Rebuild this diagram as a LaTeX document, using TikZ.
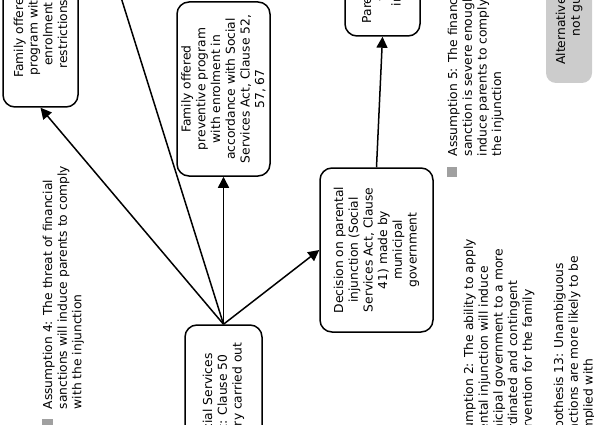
\documentclass[tikz,border=0pt]{standalone}
\usepackage{fontspec}
\setmainfont{DejaVu Sans}
\usepackage{tikz}
\usetikzlibrary{shapes,arrows.meta}
\usetikzlibrary{positioning}
\definecolor{boxgray}{RGB}{204,204,204}
\definecolor{markgray}{RGB}{160,160,160}
\tikzstyle{block} = [draw, rectangle, rounded corners=12pt, rotate=90,
    align=center, inner sep=0pt, font=\fontsize{12.3}{14.7}\selectfont]
\tikzstyle{altblock} = [fill=boxgray, rectangle, rounded corners=10pt, rotate=90,
    align=center, inner sep=0pt, font=\fontsize{12.3}{14.7}\selectfont]
\tikzstyle{note} = [rotate=90, align=left, anchor=north west, inner sep=0pt,
    font=\fontsize{12.3}{14.7}\selectfont]
\tikzstyle{marker} = [fill=markgray, rectangle, minimum size=10.5pt, inner sep=0pt]
\tikzstyle{output} = [coordinate]

\begin{document}
\begin{tikzpicture}[auto, >={Triangle[length=11pt,width=11pt]}, x=1pt, y=-1pt, line width=1.5pt]
    \useasboundingbox (0,0) rectangle (594,425);
    \clip (0,0) rectangle (594,425);
    \node [block, minimum width=146pt, minimum height=75pt] at (40.5,34) (restricted) {Family offered\\program with\\enrolment\\restrictions};
    \node [block, minimum width=174pt, minimum height=93pt] at (223.5,89) (preventive) {Family offered\\preventive program\\with enrolment in\\accordance with Social\\Services Act, Clause 52,\\57, 67};
    \node [block, minimum width=120pt, minimum height=75pt] at (382.5,-24) (comply) {Parents comply\\with the\\injunction};
    \node [block, minimum width=164pt, minimum height=113pt] at (376.5,250) (decision) {Decision on parental\\injunction (Social\\Services Act, Clause\\41) made by\\municipal\\government};
    \node [block, minimum width=149pt, minimum height=77pt] at (223.5,399.5) (inquiry) {Social Services\\Act: Clause 50\\inquiry carried out};
    \node [altblock, minimum width=189pt, minimum height=46pt] at (569,-11.5) (alternative) {Alternative interventions\\not guaranteed};
    \node [output, name=beyond] at (103,-60) {};
    \draw [->] (inquiry.east) -- (restricted.west);
    \draw [->] (inquiry.east) -- (preventive.west);
    \draw [->] (inquiry.east) -- (decision.north);
    \draw [->] (inquiry.east) -- (beyond);
    \draw [->] (decision.east) -- (comply.west);
    \node [note] at (42,410) (asmfour) {Assumption 4: The threat of financial\\sanctions will induce parents to comply\\with the injunction};
    \node [marker] at (47.5,424.5) (asmfourmark) {};
    \node [note] at (447,157) (asmfive) {Assumption 5: The financial\\sanction is severe enough\\induce parents to comply\\the injunction};
    \node [marker] at (452,172) (asmfivemark) {};
    \node [note] at (463,452) (asmtwo) {Assumption 2: The ability to apply\\parental injunction will induce\\municipal government to a more\\coordinated and contingent\\intervention for the family};
    \node [note] at (553,446) (hypthirteen) {Hypothesis 13: Unambiguous\\sanctions are more likely to be\\complied with};
\end{tikzpicture}
\end{document}
